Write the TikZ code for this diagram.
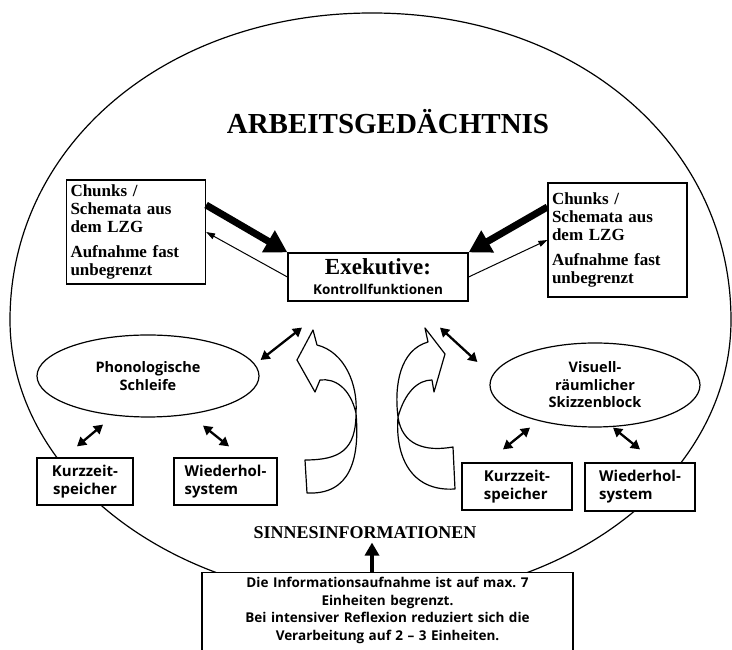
\documentclass[tikz,border=0pt]{standalone}
\usepackage{fontspec}
\setmainfont{Liberation Serif}
\newfontfamily\gillsans{Open Sans}
\usetikzlibrary{arrows.meta, shapes.geometric, positioning}

\begin{document}
\begin{tikzpicture}[
  x=1pt, y=1pt,
  chunkbox/.style={rectangle, draw=black, line width=1.2pt, fill=white, align=left, text width=131pt, inner sep=4pt, font=\bfseries\fontsize{17}{18}\selectfont},
  exekbox/.style={rectangle, draw=black, line width=1.2pt, fill=white, align=center, minimum width=180pt, minimum height=48pt, inner sep=1pt, font=\bfseries\fontsize{23}{22}\selectfont},
  membox/.style={rectangle, draw=black, line width=1.2pt, fill=white, align=left, inner sep=2pt, font=\gillsans\bfseries\fontsize{15}{18}\selectfont},
  loopnode/.style={ellipse, draw=black, line width=1.2pt, fill=white, align=center, inner sep=0pt, font=\gillsans\bfseries\fontsize{14.5}{17.5}\selectfont},
  ribbon/.style={draw=black, line width=1.2pt, fill=white, line join=round},
  bigarrow/.style={line width=7pt, -{Triangle[length=22pt,width=24pt]}},
  thinarrow/.style={line width=1pt, -{Triangle[length=9pt,width=6pt]}},
  twoway/.style={line width=2.3pt, {Triangle[length=9pt,width=10pt]}-{Triangle[length=9pt,width=10pt]}},
  upflow/.style={line width=4pt, -{Triangle[length=13pt,width=14pt]}}
]
\useasboundingbox (0,0) rectangle (732,650);

\draw[line width=1.2pt] (372,637) .. controls (578,637) and (731,505) .. (731,330)
  .. controls (731,175) and (570,50) .. (372,50)
  .. controls (174,50) and (10,175) .. (10,330)
  .. controls (10,505) and (166,637) .. (372,637) -- cycle;

\draw[ribbon] (313,320) -- (317,305) .. controls (345,298) and (358,265) .. (356,237)
  .. controls (356,200) and (340,190) .. (305,190) -- (307,157)
  .. controls (350,155) and (360,190) .. (356,237)
  .. controls (350,262) and (335,272) .. (320,270) -- (315,258) -- (297,290) -- cycle;
\draw[ribbon] (425,322) -- (428,308) .. controls (400,300) and (394,265) .. (398,233)
  .. controls (402,205) and (425,198) .. (453,203) -- (455,161)
  .. controls (410,158) and (395,195) .. (398,233)
  .. controls (405,258) and (418,270) .. (432,270) -- (434,258) -- (445,296) -- cycle;

\node (title) at (388,528) {\bfseries\fontsize{29}{32}\selectfont ARBEITSGEDÄCHTNIS};

\node (lzg1) [chunkbox, minimum height=104pt] at (136,418) {Chunks /\\Schemata aus\\dem LZG\\[7pt]Aufnahme fast\\unbegrenzt};
\node (lzg2) [chunkbox, minimum height=114pt] at (617.5,410) {Chunks /\\Schemata aus\\dem LZG\\[7pt]Aufnahme fast\\unbegrenzt};
\node (exek) [exekbox] at (378,373) {Exekutive:\\[-2pt]{\gillsans\fontsize{13.5}{15}\selectfont Kontrollfunktionen}};

\node (phon) [loopnode, minimum width=222pt, minimum height=82pt] at (148,274) {Phonologische\\Schleife};
\node (vis) [loopnode, minimum width=210pt, minimum height=84pt] at (595,265) {Visuell-\\räumlicher\\Skizzenblock};

\node (kz1) [membox, align=center, minimum width=96pt, minimum height=47pt] at (85,168.5) {Kurzzeit-\\speicher};
\node (wh1) [membox, minimum width=103pt, minimum height=47pt] at (225.5,168.5) {Wiederhol-\\system};
\node (kz2) [membox, minimum width=110pt, minimum height=47pt] at (517,163.5) {Kurzzeit-\\speicher};
\node (wh2) [membox, minimum width=110pt, minimum height=48pt] at (640,163) {Wiederhol-\\system};

\node (sinnes) at (365,117) {\bfseries\fontsize{18}{20}\selectfont SINNESINFORMATIONEN};
\node (info) [anchor=north, draw=black, line width=1.2pt, fill=white, text width=361pt, align=center, inner xsep=5pt, inner ysep=5pt, font=\gillsans\bfseries\fontsize{13.5}{17.5}\selectfont] at (387.5,78) {Die Informationsaufnahme ist auf max.~7\\Einheiten begrenzt.\\Bei intensiver Reflexion reduziert sich die\\Verarbeitung auf 2 – 3 Einheiten.\rule[-25pt]{0pt}{0pt}};

\draw [bigarrow] ([yshift=27pt]lzg1.east) -- (exek.north west);
\draw [thinarrow] (exek.west) -- (lzg1.east);
\draw [bigarrow] ([yshift=33pt]lzg2.west) -- (exek.north east);
\draw [thinarrow] (exek.east) -- (lzg2.west);

\draw [twoway] ([shift={(1pt,16pt)}]phon.east) -- ([shift={(-76pt,-26pt)}]exek.south);
\draw [twoway] ([shift={(62pt,-26pt)}]exek.south) -- ([shift={(-12pt,23pt)}]vis.west);
\draw [twoway] ([shift={(-45pt,-7pt)}]phon.south) -- ([shift={(-8pt,11pt)}]kz1.north);
\draw [twoway] ([shift={(55pt,-8pt)}]phon.south) -- ([shift={(3.5pt,11pt)}]wh1.north);
\draw [twoway] ([shift={(-65pt,0pt)}]vis.south) -- ([shift={(-14pt,13pt)}]kz2.north);
\draw [twoway] ([shift={(18pt,0pt)}]vis.south) -- ([shift={(0pt,13pt)}]wh2.north);

\draw [upflow] ([xshift=-15.5pt]info.north) -- ([xshift=7pt]sinnes.south);

\end{tikzpicture}
\end{document}
